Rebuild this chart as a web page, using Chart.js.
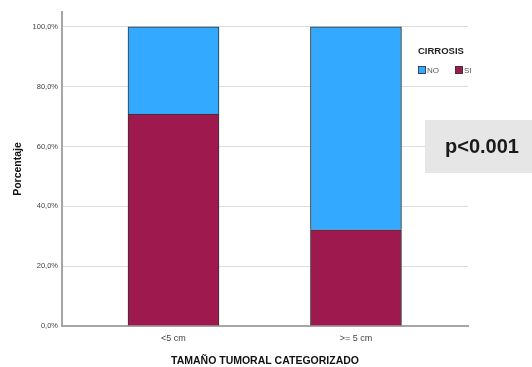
<!DOCTYPE html>
<html>
<head>
<meta charset="utf-8">
<script src="https://cdn.jsdelivr.net/npm/chart.js@4/dist/chart.umd.min.js"></script>
<style>
  body { margin: 0; background: #fff; }
  #wrap { width: 532px; height: 367px; }
</style>
</head>
<body>
<div id="wrap"><canvas id="myChart" width="532" height="367"></canvas></div>
<script>
var categorias = ['<5 cm', '>= 5 cm'];
var porcentajeSi = [70.9, 32.2];
var porcentajeNo = [29.1, 67.8];
var ticksY = [0, 20, 40, 60, 80, 100];
var pValor = 'p<0.001';

function puntos(valores) {
  return valores.map(function (v, i) { return { x: i, y: v }; });
}

// leyenda de CIRROSIS y recuadro del valor p
var extras = {
  id: 'extras',
  afterDraw: function (chart) {
    var ctx = chart.ctx;
    ctx.save();
    ctx.fillStyle = '#222';
    ctx.font = 'bold 9.5px "Liberation Sans", Arial, sans-serif';
    ctx.textBaseline = 'middle';
    ctx.fillText('CIRROSIS', 418, 51);
    var xs = [418, 455];
    chart.data.datasets.slice().reverse().forEach(function (ds, i) {
      ctx.fillStyle = ds.backgroundColor;
      ctx.fillRect(xs[i], 66, 8, 8);
      ctx.strokeStyle = '#333';
      ctx.lineWidth = 0.8;
      ctx.strokeRect(xs[i] + 0.5, 66.5, 7, 7);
      ctx.fillStyle = '#555';
      ctx.font = '8px "Liberation Sans", Arial, sans-serif';
      ctx.fillText(ds.label, xs[i] + 9, 70.5);
    });
    ctx.fillStyle = '#e6e6e6';
    ctx.fillRect(425, 120, 107, 53);
    ctx.fillStyle = '#1a1a1a';
    ctx.font = 'bold 20px "Liberation Sans", Arial, sans-serif';
    ctx.fillText(pValor, 445, 147);
    ctx.restore();
  }
};

var ctx = document.getElementById('myChart').getContext('2d');
var chart = new Chart(ctx, {
  type: 'bar',
  data: {
    datasets: [{
      label: 'SI',
      data: puntos(porcentajeSi),
      backgroundColor: '#9e1a4e',
      borderColor: '#333',
      borderWidth: 1,
      barThickness: 91
    }, {
      label: 'NO',
      data: puntos(porcentajeNo),
      backgroundColor: '#33aaff',
      borderColor: '#333',
      borderWidth: 1,
      barThickness: 91
    }]
  },
  options: {
    responsive: false,
    animation: false,
    layout: { padding: { top: 12, right: 64, left: 0, bottom: 0 } },
    plugins: { legend: { display: false }, tooltip: { enabled: false } },
    scales: {
      x: {
        type: 'linear',
        stacked: true,
        offset: false,
        bounds: 'ticks',
        min: -0.611,
        max: 1.614,
        afterBuildTicks: function (scale) {
          scale.ticks = categorias.map(function (c, i) { return { value: i }; });
        },
        afterDataLimits: function (scale) { scale.min = -0.611; scale.max = 1.614; },
        afterFit: function (scale) { scale.height = 41; },
        grid: { display: false, drawTicks: false },
        border: { color: '#a6a6a6', width: 2 },
        ticks: {
          padding: 7,
          color: '#444',
          font: { family: '"Liberation Sans", Arial, sans-serif', size: 9 },
          callback: function (v) { return categorias[v]; }
        },
        title: {
          display: true,
          text: 'TAMAÑO TUMORAL CATEGORIZADO',
          color: '#111',
          font: { family: '"Liberation Sans", Arial, sans-serif', size: 10.5, weight: 'bold' },
          padding: { top: 8, bottom: 0 }
        }
      },
      y: {
        stacked: true,
        min: 0,
        max: 105,
        afterBuildTicks: function (scale) {
          scale.ticks = ticksY.map(function (v) { return { value: v }; });
        },
        afterFit: function (scale) { scale.width = 62; },
        grid: { color: '#dcdcdc', lineWidth: 1, drawTicks: false },
        border: { color: '#a6a6a6', width: 2 },
        ticks: {
          padding: 4,
          color: '#444',
          font: { family: '"Liberation Sans", Arial, sans-serif', size: 7.5 },
          callback: function (v) { return v.toFixed(1).replace('.', ',') + '%'; }
        },
        title: {
          display: true,
          text: 'Porcentaje',
          color: '#111',
          font: { family: '"Liberation Sans", Arial, sans-serif', size: 10.5, weight: 'bold' },
          padding: { top: 12, bottom: 0 }
        }
      }
    }
  },
  plugins: [extras]
});
</script>
</body>
</html>
